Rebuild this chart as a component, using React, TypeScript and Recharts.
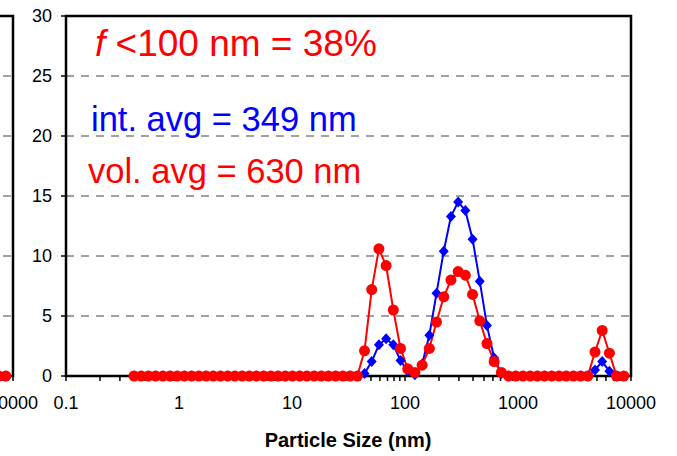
import { ComposedChart, Line, XAxis, YAxis, CartesianGrid, ReferenceArea } from 'recharts';

// Malvern size bins (nm)
const sizes = [
  0.4, 0.4632, 0.5365, 0.6213, 0.7195, 0.8332, 0.9649, 1.117, 1.294, 1.499,
  1.736, 2.01, 2.328, 2.696, 3.122, 3.615, 4.187, 4.849, 5.615, 6.503,
  7.531, 8.721, 10.1, 11.7, 13.54, 15.69, 18.17, 21.04, 24.36, 28.21,
  32.67, 37.84, 43.82, 50.75, 58.77, 68.06, 78.82, 91.28, 105.7, 122.4,
  141.8, 164.2, 190.1, 220.2, 255, 295.3, 342, 396.1, 458.7, 531.2,
  615.1, 712.4, 825, 955.4, 1106, 1281, 1484, 1718, 1990, 2305,
  2669, 3091, 3580, 4145, 4801, 5560, 6439, 7456, 8635,
];

// intensity distribution (%)
const intensity = [
  0, 0, 0, 0, 0, 0, 0, 0, 0, 0,
  0, 0, 0, 0, 0, 0, 0, 0, 0, 0,
  0, 0, 0, 0, 0, 0, 0, 0, 0, 0,
  0, 0, 0.2, 1.2, 2.6, 3.1, 2.6, 1.3, 0.4, 0.1,
  1.0, 3.4, 6.9, 10.4, 13.3, 14.5, 13.8, 11.4, 7.9, 4.2,
  1.5, 0.2, 0, 0, 0, 0, 0, 0, 0, 0,
  0, 0, 0, 0, 0.5, 1.2, 0.4, 0, 0,
];

// volume distribution (%)
const volume = [
  0, 0, 0, 0, 0, 0, 0, 0, 0, 0,
  0, 0, 0, 0, 0, 0, 0, 0, 0, 0,
  0, 0, 0, 0, 0, 0, 0, 0, 0, 0,
  0, 0, 2.1, 7.2, 10.6, 9.2, 5.5, 2.3, 0.6, 0.3,
  0.9, 2.3, 4.5, 6.6, 8.0, 8.7, 8.4, 6.8, 4.6, 2.7,
  1.2, 0.3, 0, 0, 0, 0, 0, 0, 0, 0,
  0, 0, 0, 0, 2.0, 3.8, 1.9, 0, 0,
];

const majorTicks = [0.1, 1, 10, 100, 1000, 10000];
const minorSteps = [2, 3, 4, 5, 6, 7, 8, 9];
const yTicks = [0, 5, 10, 15, 20, 25, 30];

const data = sizes.map((size, i) => ({ size, intensity: intensity[i], volume: volume[i] }));
const xTicks = [
  ...majorTicks,
  ...majorTicks.slice(0, -1).flatMap((d) => minorSteps.map((k) => +(d * k).toPrecision(3))),
].sort((a, b) => a - b);

const font = '"Liberation Sans", Arial, sans-serif';

const Diamond = (props: any) => {
  const { cx, cy } = props;
  if (cx == null || cy == null) return null;
  return (
    <polygon
      points={`${cx},${cy - 5.5} ${cx + 5},${cy} ${cx},${cy + 5.5} ${cx - 5},${cy}`}
      fill="#0000ff"
    />
  );
};

const SizeChart = () => (
  <ComposedChart
    width={677}
    height={456}
    data={data}
    margin={{ top: 16, right: 46, bottom: 50, left: 0 }}
    style={{ fontFamily: font }}
  >
    <CartesianGrid vertical={false} stroke="#444" strokeDasharray="8 7" />
    <XAxis
      dataKey="size"
      type="number"
      scale="log"
      domain={[0.1, 10000]}
      allowDataOverflow
      ticks={xTicks}
      interval={0}
      tickFormatter={(v) => (majorTicks.includes(v) ? String(v) : '')}
      height={30}
      tickSize={5}
      tickMargin={15}
      axisLine={false}
      tickLine={{ stroke: '#000', strokeWidth: 1.5 }}
      tick={{ fontSize: 18, fill: '#000' }}
    />
    <YAxis
      type="number"
      domain={[0, 30]}
      ticks={yTicks}
      width={66}
      tickSize={5}
      tickMargin={9}
      axisLine={false}
      tickLine={{ stroke: '#000', strokeWidth: 1.5 }}
      tick={{ fontSize: 18, fill: '#000' }}
    />
    <ReferenceArea x1={0.1} x2={10000} y1={0} y2={30} fill="none" stroke="#000" strokeWidth={2.5} fillOpacity={0} />
    <Line
      type="linear"
      dataKey="intensity"
      stroke="#0000ff"
      strokeWidth={2}
      dot={<Diamond />}
      activeDot={false}
      isAnimationActive={false}
    />
    <Line
      type="linear"
      dataKey="volume"
      stroke="#ff0000"
      strokeWidth={2}
      dot={{ r: 5.5, fill: '#ff0000', stroke: 'none' }}
      activeDot={false}
      isAnimationActive={false}
    />
  </ComposedChart>
);

export default function App() {
  return (
    <div
      style={{
        position: 'fixed',
        left: 0,
        top: 0,
        width: 677,
        height: 456,
        overflow: 'hidden',
        background: '#fff',
        fontFamily: font,
      }}
    >
      {/* neighbouring panel, only its right edge shows */}
      <div style={{ position: 'absolute', left: -618, top: 0 }}>
        <SizeChart />
      </div>
      <div style={{ position: 'absolute', left: 0, top: 0 }}>
        <SizeChart />
      </div>
      <svg
        width={677}
        height={456}
        style={{ position: 'absolute', left: 0, top: 0, pointerEvents: 'none', fontFamily: font }}
      >
        <text x={95} y={56} fontSize={37} fill="#ff0000">
          <tspan fontStyle="italic">f</tspan>
          <tspan> &lt;100 nm = 38%</tspan>
        </text>
        <text x={91} y={131} fontSize={34.5} fill="#0000ff">
          int. avg = 349 nm
        </text>
        <text x={88} y={183} fontSize={34.5} fill="#ff0000">
          vol. avg = 630 nm
        </text>
        <text x={348} y={447} fontSize={20} fontWeight="bold" textAnchor="middle" fill="#000">
          Particle Size (nm)
        </text>
      </svg>
    </div>
  );
}
